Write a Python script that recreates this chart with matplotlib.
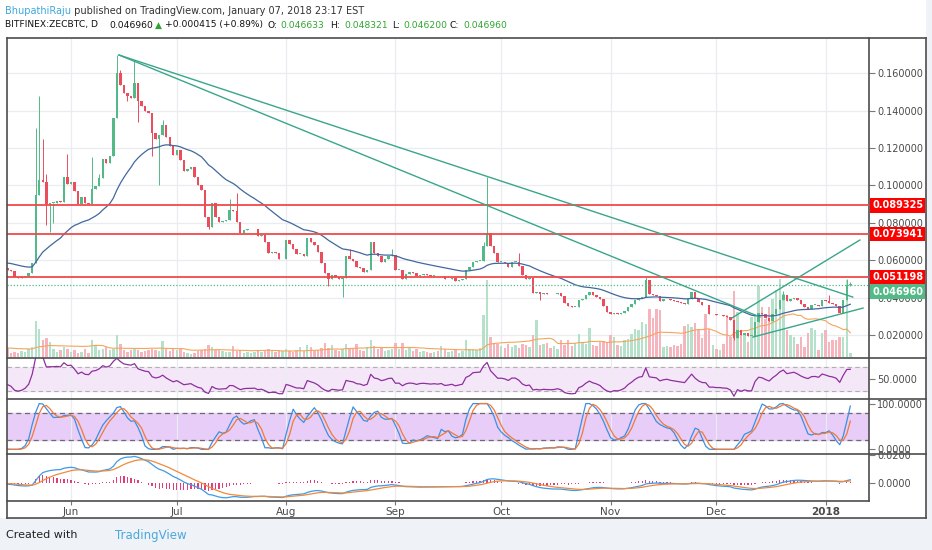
import numpy as np
import pandas as pd
import matplotlib
matplotlib.use("Agg")
import matplotlib.pyplot as plt
from matplotlib.patches import Rectangle, Polygon
from matplotlib.lines import Line2D
import matplotlib.transforms as mtransforms

# ---- data (daily ZEC/BTC, from 2017-05-15) ----
start_date = "2017-05-15"

# closes before the visible window (only feed the indicators)
warmup_close = [0.0585, 0.0595, 0.0580, 0.0590, 0.0605, 0.0600, 0.0585, 0.0575, 0.0590,
                0.0600, 0.0610, 0.0595, 0.0585, 0.0600, 0.0615, 0.0605, 0.0590, 0.0595,
                0.0605, 0.0620, 0.0610, 0.0595, 0.0585, 0.0600, 0.0610, 0.0595, 0.0585,
                0.0575, 0.0585, 0.0595, 0.0590, 0.0580, 0.0570, 0.0565, 0.0560, 0.0550]
warmup_volume = [9, 8, 10, 9, 11, 8, 9, 10, 12, 9, 8, 10, 9, 11, 10, 9, 8, 10, 9, 8,
                 9, 10, 8, 9, 11, 10, 9, 8, 10, 9, 8, 9, 10, 9, 8, 9]

close = [
    0.0540, 0.0512, 0.0505, 0.0508, 0.0515, 0.0530, 0.0585, 0.0950, 0.1030, 0.1020,  # May 15-24
    0.0900, 0.0905, 0.0905, 0.0915, 0.0910, 0.1045, 0.1010, 0.1020, 0.0970, 0.0900,  # May 25-Jun 3
    0.0940, 0.0905, 0.0900, 0.0980, 0.0995, 0.1040, 0.1140, 0.1120, 0.1160, 0.1360,  # Jun 4-13
    0.1600, 0.1540, 0.1493, 0.1480, 0.1470, 0.1550, 0.1450, 0.1423, 0.1400, 0.1390,  # Jun 14-23
    0.1280, 0.1250, 0.1270, 0.1323, 0.1260, 0.1210, 0.1163, 0.1190, 0.1136, 0.1080,  # Jun 24-Jul 3
    0.1090, 0.1100, 0.1047, 0.1000, 0.0976, 0.0833, 0.0780, 0.0905, 0.0833, 0.0806,  # Jul 4-13
    0.0810, 0.0815, 0.0870, 0.0865, 0.0806, 0.0745, 0.0760, 0.0765, 0.0765, 0.0768,  # Jul 14-23
    0.0730, 0.0735, 0.0700, 0.0640, 0.0645, 0.0640, 0.0605, 0.0605, 0.0708, 0.0688,  # Jul 24-Aug 2
    0.0660, 0.0635, 0.0635, 0.0620, 0.0720, 0.0700, 0.0680, 0.0646, 0.0584, 0.0530,  # Aug 3-12
    0.0500, 0.0522, 0.0510, 0.0500, 0.0505, 0.0620, 0.0605, 0.0595, 0.0565, 0.0558,  # Aug 13-22
    0.0535, 0.0548, 0.0696, 0.0637, 0.0625, 0.0592, 0.0605, 0.0625, 0.0630, 0.0548,  # Aug 23-Sep 1
    0.0550, 0.0500, 0.0525, 0.0535, 0.0530, 0.0513, 0.0523, 0.0525, 0.0520, 0.0515,  # Sep 2-11
    0.0518, 0.0513, 0.0518, 0.0497, 0.0500, 0.0505, 0.0490, 0.0495, 0.0500, 0.0548,  # Sep 12-21
    0.0562, 0.0592, 0.0595, 0.0598, 0.0676, 0.0744, 0.0675, 0.0637, 0.0592, 0.0593,  # Sep 22-Oct 1
    0.0585, 0.0566, 0.0593, 0.0593, 0.0570, 0.0523, 0.0500, 0.0505, 0.0425, 0.0430,  # Oct 2-11
    0.0420, 0.0425, 0.0422, 0.0418, 0.0420, 0.0425, 0.0410, 0.0370, 0.0355, 0.0350,  # Oct 12-21
    0.0352, 0.0385, 0.0395, 0.0415, 0.0430, 0.0415, 0.0405, 0.0390, 0.0355, 0.0325,  # Oct 22-31
    0.0310, 0.0318, 0.0315, 0.0320, 0.0330, 0.0350, 0.0365, 0.0385, 0.0400, 0.0405,  # Nov 1-10
    0.0495, 0.0420, 0.0415, 0.0410, 0.0380, 0.0390, 0.0395, 0.0385, 0.0380, 0.0375,  # Nov 11-20
    0.0370, 0.0365, 0.0395, 0.0432, 0.0400, 0.0375, 0.0360, 0.0358, 0.0310, 0.0310,  # Nov 21-30
    0.0305, 0.0305, 0.0300, 0.0298, 0.0280, 0.0183, 0.0227, 0.0200, 0.0210, 0.0195,  # Dec 1-10
    0.0195, 0.0270, 0.0316, 0.0310, 0.0290, 0.0275, 0.0310, 0.0340, 0.0385, 0.0415,  # Dec 11-20
    0.0380, 0.0390, 0.0400, 0.0385, 0.0365, 0.0350, 0.0340, 0.0360, 0.0362, 0.0355,  # Dec 21-30
    0.0388, 0.0380, 0.0370, 0.0365, 0.0355, 0.0320, 0.0385, 0.0466, 0.04696,         # Dec 31-Jan 8
]

volume = [
    4, 5, 4, 6, 5, 8, 10, 36, 28, 17, 19, 15, 8, 5, 7, 10, 8, 5, 7, 4,
    5, 8, 4, 17, 12, 7, 8, 10, 7, 8, 22, 13, 7, 5, 7, 8, 7, 5, 6, 7,
    8, 7, 6, 16, 8, 6, 8, 7, 8, 5, 4, 3, 4, 6, 7, 8, 12, 10, 7, 7,
    6, 5, 5, 11, 6, 7, 4, 5, 4, 5, 6, 5, 6, 8, 6, 5, 7, 6, 8, 6,
    5, 7, 10, 6, 12, 10, 6, 7, 9, 14, 9, 12, 7, 6, 8, 13, 9, 8, 13, 7,
    6, 10, 17, 11, 8, 9, 6, 7, 8, 14, 8, 14, 7, 9, 6, 8, 5, 6, 5, 4,
    5, 6, 11, 8, 5, 6, 7, 4, 6, 17, 8, 8, 7, 9, 42, 77, 20, 14, 13, 11,
    9, 13, 10, 12, 9, 13, 12, 10, 22, 37, 12, 13, 14, 9, 11, 8, 17, 12, 17, 11,
    14, 23, 15, 13, 29, 12, 11, 15, 16, 15, 22, 20, 12, 11, 17, 18, 23, 28, 27, 35,
    33, 48, 39, 48, 47, 10, 11, 10, 12, 11, 13, 31, 33, 30, 34, 27, 19, 43, 28, 12,
    8, 7, 13, 42, 20, 66, 45, 23, 22, 15, 40, 43, 71, 50, 38, 50, 58, 67, 78, 63,
    27, 22, 20, 13, 20, 10, 24, 29, 27, 7, 24, 27, 15, 17, 17, 20, 20, 77, 4,
]

# notable wicks (day index -> value)
highs = {7: 0.131, 8: 0.148, 9: 0.125, 10: 0.106, 16: 0.117, 23: 0.115, 25: 0.106,
         30: 0.170, 31: 0.162, 35: 0.167, 43: 0.135, 62: 0.093, 64: 0.096, 96: 0.066,
         108: 0.066, 134: 0.070, 135: 0.1047, 144: 0.0637, 180: 0.051, 219: 0.0435,
         232: 0.0414, 237: 0.0498, 238: 0.048321}
lows = {10: 0.079, 11: 0.075, 12: 0.080, 33: 0.145, 36: 0.134, 40: 0.116, 42: 0.100,
        56: 0.0765, 90: 0.046, 94: 0.0405, 150: 0.0385, 205: 0.0175, 238: 0.0462}
last_open = 0.046633

levels = [0.089325, 0.073941, 0.051198]
last_price = 0.046960

# drawn trendlines: ((day, price), (day, price))
trend_lines = [((30.6, 0.1698), (238.7, 0.0403)),
               ((30.6, 0.1698), (212.4, 0.0296)),
               ((204.4, 0.0291), (240.7, 0.0708)),
               ((210.4, 0.0189), (241.6, 0.0344))]

price_ticks = [0.02, 0.04, 0.06, 0.08, 0.10, 0.12, 0.14, 0.16]

# ---- indicators ----
all_close = pd.Series(warmup_close + close)
all_vol = pd.Series(warmup_volume + volume)
n_w = len(warmup_close)
xs = np.arange(len(all_close)) - n_w

ma30 = all_close.ewm(span=30, adjust=False).mean()
vol_ma = all_vol.rolling(20).mean()

delta = all_close.diff()
gain = delta.clip(lower=0).ewm(alpha=1 / 14, adjust=False).mean()
loss = (-delta.clip(upper=0)).ewm(alpha=1 / 14, adjust=False).mean()
rsi = 100 - 100 / (1 + gain / loss)
lo14 = rsi.rolling(14).min()
hi14 = rsi.rolling(14).max()
stoch = (rsi - lo14) / (hi14 - lo14) * 100
stoch_k = stoch.rolling(3).mean()
stoch_d = stoch_k.rolling(3).mean()

ema12 = all_close.ewm(span=12, adjust=False).mean()
ema26 = all_close.ewm(span=26, adjust=False).mean()
macd = ema12 - ema26
signal = macd.ewm(span=9, adjust=False).mean()
hist = macd - signal

opens = all_close.shift(1).fillna(all_close.iloc[0]).values.copy()
opens[-1] = last_open
closes = all_close.values

dates = pd.date_range(start_date, periods=len(close), freq="D")
month_idx = [i for i, d in enumerate(dates) if d.day == 1]
month_lbl = ["2018" if dates[i].month == 1 else dates[i].strftime("%b") for i in month_idx]

# ---- figure layout (pixel based) ----
W, H = 932, 550
fig = plt.figure(figsize=(W / 100, H / 100), dpi=100, facecolor="white")


def px_axes(x0, y0, x1, y1):
    return fig.add_axes([x0 / W, 1 - y1 / H, (x1 - x0) / W, (y1 - y0) / H])


fig.patches.append(Rectangle((0, 0), 1, (H - 518) / H, transform=fig.transFigure,
                             facecolor="#eff2f7", edgecolor="none", zorder=0))
fig.patches.append(Rectangle((926 / W, 0), 6 / W, 1, transform=fig.transFigure,
                             facecolor="#eff2f7", edgecolor="none", zorder=0))

X0, X1 = 7, 869
ax = px_axes(X0, 38, X1, 357)
ax_rsi = px_axes(X0, 358, X1, 398)
ax_st = px_axes(X0, 399, X1, 453)
ax_macd = px_axes(X0, 454, X1, 501)

# volume overlay on the price panel
axv = ax.twinx()
axv.set_ylim(0, 357 - 38)
axv.axis("off")
ax.set_zorder(axv.get_zorder() + 1)
ax.patch.set_visible(False)

xlim = (-1.15, 243.3)
label_col = "#4a4a4a"
grid_col = "#e9ecf0"
spine_col = "#4d4d4d"

for a in (ax, ax_rsi, ax_st, ax_macd):
    a.set_xlim(*xlim)
    for s in ("left", "top", "bottom"):
        a.spines[s].set_visible(False)
    a.spines["right"].set_visible(True)
    a.spines["right"].set_color(spine_col)
    a.spines["right"].set_linewidth(1.2)
    a.yaxis.tick_right()
    a.tick_params(axis="y", left=False, right=True, labelleft=False, labelright=True,
                  length=4, width=0.8, color="#777", labelsize=7,
                  labelcolor=label_col, pad=2)
    a.tick_params(axis="x", length=0, labelbottom=False)
    a.set_xticks(month_idx)
    a.grid(axis="x", color=grid_col, linewidth=0.9)
    a.set_axisbelow(True)
axv.set_xlim(*xlim)
for a in (ax_rsi, ax_st, ax_macd):
    a.set_facecolor("white")

# ---- main price panel ----
ax.set_ylim(0.02 - (357 - 335) * 0.000535, 0.02 + (335 - 38) * 0.000535)
ax.set_yticks(price_ticks)
ax.set_yticklabels([f"{t:.6f}" for t in price_ticks])
ax.grid(False)
for t in price_ticks:
    axv.axhline((t - ax.get_ylim()[0]) / 0.000535, color=grid_col, linewidth=0.9, zorder=0)
for m in month_idx:
    axv.axvline(m, color=grid_col, linewidth=0.9, zorder=0)

up_all = closes >= opens
vcol = np.where(up_all, "#b5e1cb", "#f6b5bd")
axv.bar(xs, all_vol.values, width=0.7, color=vcol, zorder=1)
axv.plot(xs, vol_ma.values, color="#f5a55a", linewidth=0.8, zorder=2)

body_lo = np.minimum(opens, closes)
body_h = np.maximum(np.abs(closes - opens), 0.0004)
ccol = np.where(up_all, "#53b987", "#eb4d5c")
hi = np.maximum(opens, closes).copy()
lo = body_lo.copy()
for d, v in highs.items():
    hi[d + n_w] = v
for d, v in lows.items():
    lo[d + n_w] = v
ax.vlines(xs, lo, hi, colors=ccol, linewidth=0.7, zorder=3)
ax.bar(xs, body_h, bottom=body_lo, width=0.7, color=ccol, zorder=4)
ax.plot(xs, ma30.values, color="#41689e", linewidth=0.9, zorder=5)

for lv in levels:
    ax.axhline(lv, color="#f04a4a", linewidth=1.3, zorder=6)
ax.axhline(last_price, color="#53b987", linewidth=0.9, linestyle=(0, (1, 1.5)), zorder=6)
for (d0, p0), (d1, p1) in trend_lines:
    ax.plot([d0, d1], [p0, p1], color="#3aa58a", linewidth=1.0, zorder=7)

ytrans = mtransforms.blended_transform_factory(ax.transAxes, ax.transData)
for lv in levels:
    ax.text(1.0035, lv, f"{lv:.6f}", transform=ytrans, color="white", fontsize=7,
            fontweight="bold", va="center", ha="left", clip_on=False, zorder=10,
            bbox=dict(boxstyle="square,pad=0.22", facecolor="#ff0000", edgecolor="none"))
ax.annotate(f"{last_price:.6f}", xy=(1.0035, last_price), xycoords=ytrans,
            xytext=(0, -5), textcoords="offset points", color="white", fontsize=7,
            fontweight="bold", va="center", ha="left", annotation_clip=False, zorder=10,
            bbox=dict(boxstyle="square,pad=0.22", facecolor="#53b987", edgecolor="none"))

# ---- RSI ----
ax_rsi.set_ylim(18, 85)
ax_rsi.axhspan(30, 70, color="#f4e8f8", zorder=0)
for lv in (30, 70):
    ax_rsi.axhline(lv, color="#b0b0b0", linewidth=0.8, linestyle=(0, (4, 3)))
ax_rsi.plot(xs, rsi.values, color="#8e2f9e", linewidth=0.9)
ax_rsi.set_yticks([50])
ax_rsi.set_yticklabels(["50.0000"])

# ---- Stoch RSI ----
ax_st.set_ylim(-8, 110)
ax_st.axhspan(20, 80, color="#e7cdf7", zorder=0)
for lv in (20, 80):
    ax_st.axhline(lv, color="#6b6b6b", linewidth=0.9, linestyle=(0, (4, 3)))
ax_st.plot(xs, stoch_k.values, color="#3d8fe0", linewidth=0.9)
ax_st.plot(xs, stoch_d.values, color="#f07a3a", linewidth=0.9)
ax_st.set_yticks([100, 0])
ax_st.set_yticklabels(["100.0000", "0.0000"])

# ---- MACD ----
ax_macd.set_ylim(-(501 - 483) * 0.02 / 28, (483 - 454) * 0.02 / 28)
ax_macd.bar(xs, hist.values, width=0.35, color="#e23d7a", zorder=2)
ax_macd.plot(xs, macd.values, color="#3d9be9", linewidth=0.9, zorder=3)
ax_macd.plot(xs, signal.values, color="#f08a3c", linewidth=0.9, zorder=3)
ax_macd.set_yticks([0.02, 0.0])
ax_macd.set_yticklabels(["0.0200", "0.0000"])
ax_macd.tick_params(axis="x", length=3, color="#777", labelbottom=True, labelsize=7.5,
                    labelcolor=label_col, pad=1, direction="out")
ax_macd.set_xticklabels(month_lbl)
for lab in ax_macd.get_xticklabels():
    if lab.get_text() == "2018":
        lab.set_fontweight("bold")

# ---- frame lines ----
def hline(y, x0, x1):
    fig.add_artist(Line2D([x0 / W, x1 / W], [1 - y / H, 1 - y / H], color=spine_col,
                          linewidth=1.2, transform=fig.transFigure))


def vline(x, y0, y1):
    fig.add_artist(Line2D([x / W, x / W], [1 - y0 / H, 1 - y1 / H], color=spine_col,
                          linewidth=1.2, transform=fig.transFigure))


hline(38, 7, 926)
hline(357.5, 7, 926)
hline(398.5, 7, 926)
hline(453.5, 7, 926)
hline(501, 7, 869)
hline(518, 7, 926)
vline(7, 38, 518)
vline(926, 38, 518)

# ---- header and footer texts ----
fig.canvas.draw()
renderer = fig.canvas.get_renderer()


def write_pieces(x, y, pieces, size):
    for txt, col, wt in pieces:
        t = fig.text(x / W, 1 - y / H, txt, color=col, fontsize=size, fontweight=wt,
                     va="center", ha="left")
        x += t.get_window_extent(renderer).width


write_pieces(5, 11, [("BhupathiRaju", "#3ea8dc", "normal"),
                     (" published on TradingView.com, January 07, 2018 23:17 EST", "#333333", "normal")], 7)

green = "#2fa52f"
dark = "#111111"
ohlc_line = [(5, "BITFINEX:ZECBTC, D", dark), (109, "0.046960", dark),
             (155, "\u25b2", green), (165, "+0.000415 (+0.89%)", dark),
             (267, "O:", dark), (280, "0.046633", green),
             (330, "H:", dark), (344, "0.048321", green),
             (392, "L:", dark), (403, "0.046200", green),
             (450, "C:", dark), (463, "0.046960", green)]
for x, txt, col in ohlc_line:
    fig.text(x / W, 1 - 25 / H, txt, color=col, fontsize=6.6, va="center", ha="left")

fig.text(6 / W, 1 - 535 / H, "Created with", color="#222222", fontsize=8, va="center")
logo = px_axes(86, 527, 110, 541)
logo.set_xlim(0, 24)
logo.set_ylim(0, 14)
logo.axis("off")
logo.add_patch(Polygon([(0, 1), (3, 7), (7, 11), (11, 12), (15, 9), (18, 8), (21, 6),
                        (24, 1)], closed=True, facecolor="#4fb3e0", edgecolor="none"))
logo.plot([3, 8, 12, 16, 21], [3, 8, 4, 7, 3], color="white", linewidth=1.2)
fig.text(115 / W, 1 - 535 / H, "TradingView", color="#4aa8dc", fontsize=8.5, va="center")

fig.savefig("out.png", dpi=100, facecolor=fig.get_facecolor())
